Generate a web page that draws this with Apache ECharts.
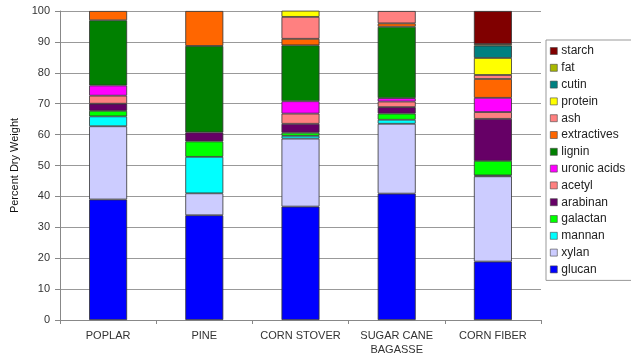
<!DOCTYPE html>
<html>
<head>
<meta charset="utf-8">
<script src="https://cdn.jsdelivr.net/npm/echarts@6/dist/echarts.min.js"></script>
<style>
  html, body { margin: 0; padding: 0; background: #fff; }
  #chart { width: 631px; height: 357px; }
</style>
</head>
<body>
<div id="chart"></div>
<script>
// Feedstock categories along the x axis
const categories = ['POPLAR', 'PINE', 'CORN STOVER', 'SUGAR CANE\nBAGASSE', 'CORN FIBER'];

// Composition, percent of dry weight (bottom of stack first)
const glucan      = [39.0, 33.9, 36.7, 40.9, 18.9];
const xylan       = [23.7,  7.1, 22.0, 22.6, 27.6];
const mannan      = [ 3.2, 11.8,  0.9,  1.3,  0.3];
const galactan    = [ 1.8,  5.0,  1.0,  2.0,  4.7];
const arabinan    = [ 2.3,  2.9,  2.9,  2.1, 13.6];
const acetyl      = [ 2.6,  0,    3.3,  1.8,  2.2];
const uronicAcids = [ 3.3,  0,    4.0,  1.1,  4.6];
const lignin      = [21.1, 28.0, 18.1, 23.1,  0];
const extractives = [ 3.0, 11.3,  2.1,  1.1,  6.1];
const ash         = [ 0,    0,    7.1,  4.0,  1.3];
const protein     = [ 0,    0,    2.0,  0,    5.5];
const cutin       = [ 0,    0,    0,    0,    4.0];
const fat         = [ 0,    0,    0,    0,    0.5];
const starch      = [ 0,    0,    0,    0,   10.7];

// Y axis ticks
const yTicks = [0, 10, 20, 30, 40, 50, 60, 70, 80, 90, 100];

const components = [
  { name: 'glucan',       data: glucan,      color: '#0000ff' },
  { name: 'xylan',        data: xylan,       color: '#ccccff' },
  { name: 'mannan',       data: mannan,      color: '#00ffff' },
  { name: 'galactan',     data: galactan,    color: '#00ff00' },
  { name: 'arabinan',     data: arabinan,    color: '#660066' },
  { name: 'acetyl',       data: acetyl,      color: '#ff8080' },
  { name: 'uronic acids', data: uronicAcids, color: '#ff00ff' },
  { name: 'lignin',       data: lignin,      color: '#008000' },
  { name: 'extractives',  data: extractives, color: '#ff6600' },
  { name: 'ash',          data: ash,         color: '#ff8080' },
  { name: 'protein',      data: protein,     color: '#ffff00' },
  { name: 'cutin',        data: cutin,       color: '#008080' },
  { name: 'fat',          data: fat,         color: '#a8b800' },
  { name: 'starch',       data: starch,      color: '#800000' }
];

const font = '"Liberation Sans", Arial, sans-serif';

const series = components.map(c => ({
  name: c.name,
  type: 'bar',
  stack: 'total',
  barWidth: 38,
  // empty components are left out of the stack entirely
  data: c.data.map(v => (v === 0 ? '-' : v)),
  itemStyle: { color: c.color, borderColor: '#333', borderWidth: 0.8 },
  emphasis: { disabled: true }
}));

const chart = echarts.init(document.getElementById('chart'), null, { renderer: 'canvas' });
chart.setOption({
  animation: false,
  backgroundColor: '#ffffff',
  grid: { left: 60, right: 90, top: 11, bottom: 36 },
  legend: {
    orient: 'vertical',
    left: 546,
    top: 40,
    padding: [5, 40, 5, 4],
    borderColor: '#999',
    borderWidth: 1,
    itemWidth: 7,
    itemHeight: 7,
    itemGap: 4.8,
    icon: 'rect',
    selectedMode: false,
    data: components.map(c => c.name).reverse(),
    itemStyle: { borderColor: '#444', borderWidth: 0.6 },
    textStyle: { fontFamily: font, fontSize: 12, color: '#222', lineHeight: 12, padding: [0, 0, 0, -1] }
  },
  xAxis: {
    type: 'category',
    data: categories,
    axisLine: { lineStyle: { color: '#888' } },
    axisTick: { show: true, length: 4, lineStyle: { color: '#888' } },
    axisLabel: { fontFamily: font, fontSize: 11, color: '#333', margin: 9, lineHeight: 14, interval: 0 }
  },
  yAxis: {
    type: 'value',
    min: yTicks[0],
    max: yTicks[yTicks.length - 1],
    interval: yTicks[1] - yTicks[0],
    name: 'Percent Dry Weight',
    nameLocation: 'middle',
    nameRotate: 90,
    nameGap: 40,
    nameTextStyle: { fontFamily: font, fontSize: 11, color: '#111' },
    axisLine: { show: true, lineStyle: { color: '#888' } },
    axisTick: { show: true, length: 5, lineStyle: { color: '#888' } },
    axisLabel: { fontFamily: font, fontSize: 11, color: '#333', margin: 10 },
    splitLine: { show: true, lineStyle: { color: '#999', width: 1 } }
  },
  series: series
});
</script>
</body>
</html>
